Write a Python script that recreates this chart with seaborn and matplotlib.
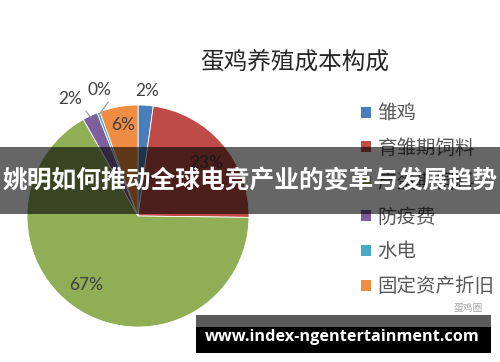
import numpy as np
import matplotlib
matplotlib.use("Agg")
import matplotlib.pyplot as plt
import seaborn as sns
from matplotlib.patches import Rectangle

# ---- data ----
categories = ["雏鸡", "育雏期饲料", "产蛋期饲料", "防疫费", "水电", "固定资产折旧"]
shares = [2.2, 23.0, 66.6, 2.2, 0.4, 5.6]
colors = ["#4A7EBB", "#BE4B48", "#8FAE55", "#7D5FA0", "#4AAAC5", "#EE8D43"]
title = "蛋鸡养殖成本构成"
banner = "姚明如何推动全球电竞产业的变革与发展趋势"
site = "www.index-ngentertainment.com"
watermark = "蛋鸡圈"

# label placement style: (radial distance, angular shift in degrees, leader line)
label_style = [(1.13, 0, False), (0.78, -2.7, False), (0.78, -6.6, False),
               (1.22, 4.3, True), (1.19, -4.0, True), (0.83, -0.7, False)]

sns.set_theme(style="white")
plt.rcParams["font.family"] = ["Noto Sans CJK SC", "DejaVu Sans"]

W, H = 500, 362
fig = plt.figure(figsize=(W / 100, H / 100), dpi=100)
fig.patch.set_facecolor("white")

cx, cy, r = 138, 216, 111
ax = fig.add_axes([(cx - r) / W, (H - cy - r) / H, 2 * r / W, 2 * r / H])
wedges, _ = ax.pie(shares, colors=colors, startangle=90, counterclock=False,
                   wedgeprops=dict(edgecolor="white", linewidth=0.6))
ax.set_xlim(-1, 1)
ax.set_ylim(-1, 1)
ax.set_aspect("equal")
ax.axis("off")

total = sum(shares)
for w, val, (dist, shift, lead) in zip(wedges, shares, label_style):
    mid = (w.theta1 + w.theta2) / 2.0
    ang = np.deg2rad(mid + shift)
    pos = (dist * np.cos(ang), dist * np.sin(ang))
    txt = f"{round(val / total * 100)}%"
    if lead:
        m = np.deg2rad(mid)
        tip = (0.98 * np.cos(m), 0.98 * np.sin(m))
        relpos = (1, 0) if pos[0] < -0.3 else (0.5, 0)
        ax.annotate(txt, xy=tip, xytext=pos, ha="center", va="center",
                    fontsize=12.5, color="#404040", family=["Lato", "DejaVu Sans"],
                    arrowprops=dict(arrowstyle="-", color="#9a9a9a", lw=0.8,
                                    relpos=relpos, shrinkA=1, shrinkB=0))
    else:
        ax.text(pos[0], pos[1], txt, ha="center", va="center", fontsize=12.5,
                color="#404040", family=["Lato", "DejaVu Sans"])

fig.text(295 / W, 1 - 62 / H, title, ha="center", va="center", fontsize=17,
         color="#262626")

handles = [Rectangle((0, 0), 1, 1, facecolor=c, edgecolor="none") for c in colors]
leg = fig.legend(handles, categories, loc="upper left",
                 bbox_to_anchor=(361 / W, 1 - 103 / H), frameon=False,
                 fontsize=14, handlelength=0.5, handleheight=0.5,
                 handletextpad=0.35, labelspacing=0.70, borderpad=0,
                 borderaxespad=0)
for t in leg.get_texts():
    t.set_color("#595959")

# watermark
fig.text(483 / W, 1 - 308 / H, watermark, ha="right", va="center", fontsize=7,
         color="#a8a8a8")

# overlay banner
fig.patches.append(Rectangle((0, (H - 214) / H), 1, 67 / H, transform=fig.transFigure,
                             facecolor="black", alpha=0.6, edgecolor="none", zorder=10))
bt = fig.text(250 / W, 1 - 181 / H, banner, ha="center", va="center", fontsize=17.8,
              color="white", fontweight="bold", zorder=11)

# bottom site band
fig.patches.append(Rectangle((196 / W, (H - 327) / H), 295 / W, 12 / H,
                             transform=fig.transFigure, facecolor="#5a5a5a",
                             edgecolor="none", zorder=10))
fig.patches.append(Rectangle((196 / W, (H - 353) / H), 295 / W, 26 / H,
                             transform=fig.transFigure, facecolor="black",
                             edgecolor="none", zorder=10))
st = fig.text(342.5 / W, 1 - 337 / H, site, ha="center", va="center", fontsize=12,
              color="white", fontweight="bold", family=["Open Sans", "DejaVu Sans"],
              zorder=11)

# fit text widths
fig.canvas.draw()
for t, target in [(bt, 496), (st, 275)]:
    bb = t.get_window_extent()
    t.set_fontsize(t.get_fontsize() * target / bb.width)

fig.savefig("out.png", dpi=100)
